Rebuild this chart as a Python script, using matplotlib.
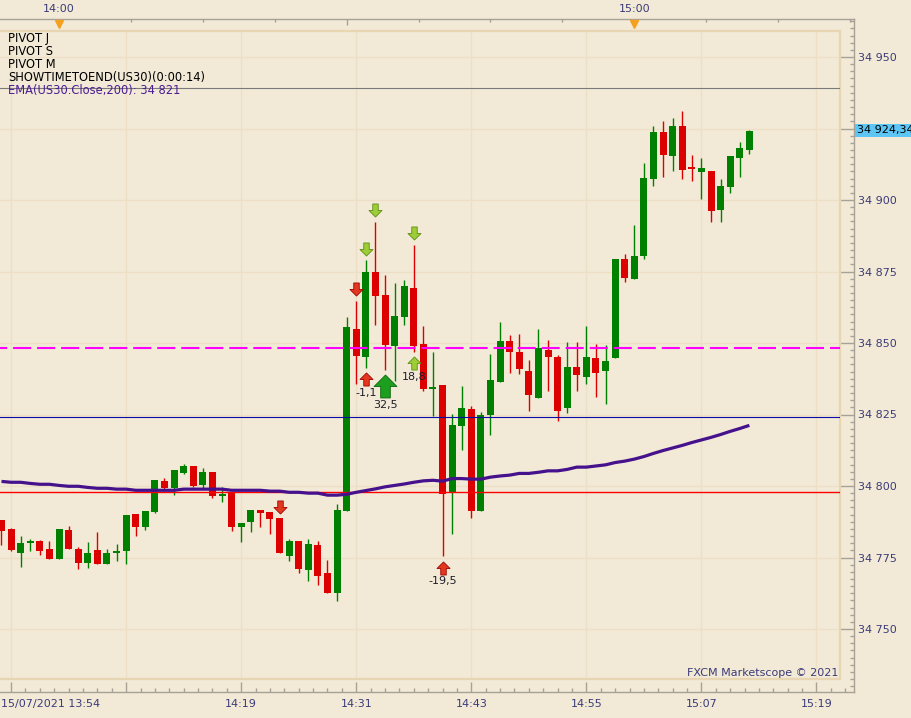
import datetime as dt
import numpy as np
import matplotlib
matplotlib.use("Agg")
import matplotlib.pyplot as plt
from matplotlib.path import Path
from matplotlib.transforms import offset_copy, blended_transform_factory
from matplotlib.ticker import FixedLocator, MultipleLocator, FuncFormatter

# ---------------- data: US30, 1 minute candles, 15/07/2021 ----------------
start = dt.datetime(2021, 7, 15, 13, 54)

opens = [34788.1, 34785.0, 34776.4, 34779.9, 34780.8, 34778.0, 34774.6, 34784.6, 34778.0, 34773.2,
         34777.6, 34772.9, 34776.7, 34777.1, 34790.2, 34785.8, 34791.0, 34801.8, 34799.4, 34804.6,
         34807.0, 34800.4, 34804.9, 34796.6, 34797.9, 34785.7, 34787.4, 34791.6, 34790.9, 34788.8,
         34775.5, 34780.8, 34770.6, 34779.4, 34769.6, 34762.6, 34791.3, 34854.9, 34845.2, 34874.8,
         34866.8, 34849.0, 34859.1, 34869.2, 34849.7, 34833.9, 34835.3, 34797.9, 34820.9, 34826.9,
         34791.2, 34824.8, 34836.3, 34850.7, 34846.8, 34840.2, 34830.7, 34847.5, 34845.1, 34827.2,
         34841.6, 34838.1, 34844.7, 34840.2, 34844.7, 34879.4, 34872.4, 34880.5, 34907.4, 34923.8,
         34915.4, 34925.9, 34911.2, 34909.8, 34910.2, 34896.5, 34904.6, 34914.7, 34917.5]
highs = [34788.1, 34785.2, 34782.5, 34781.5, 34781.1, 34780.8, 34785.0, 34786.0, 34778.7, 34780.4,
         34783.9, 34778.0, 34779.7, 34789.9, 34790.2, 34791.3, 34802.1, 34802.8, 34805.6, 34807.7,
         34807.0, 34806.3, 34804.9, 34799.7, 34797.9, 34787.1, 34791.6, 34791.6, 34790.9, 34788.8,
         34781.5, 34780.8, 34781.5, 34780.8, 34774.1, 34793.7, 34859.2, 34864.7, 34879.0, 34892.3,
         34873.8, 34871.0, 34872.0, 34884.3, 34855.9, 34846.8, 34835.3, 34825.1, 34834.9, 34827.9,
         34825.8, 34846.1, 34857.3, 34852.8, 34853.1, 34844.0, 34854.9, 34851.0, 34845.8, 34850.3,
         34850.3, 34855.9, 34849.6, 34849.3, 34879.4, 34881.2, 34891.3, 34913.0, 34925.9, 34927.7,
         34928.7, 34931.2, 34915.8, 34914.7, 34910.2, 34907.4, 34915.4, 34920.3, 34924.5]
lows = [34779.4, 34777.3, 34771.8, 34777.1, 34775.9, 34774.6, 34774.6, 34777.8, 34771.1, 34771.5,
        34772.9, 34772.9, 34773.9, 34772.9, 34782.6, 34784.7, 34790.7, 34798.6, 34796.9, 34804.2,
        34799.7, 34799.3, 34795.8, 34794.4, 34784.3, 34780.4, 34783.9, 34785.7, 34783.2, 34776.6,
        34773.8, 34769.6, 34766.8, 34765.4, 34762.6, 34759.8, 34791.3, 34835.5, 34841.4, 34856.3,
        34840.6, 34836.7, 34856.3, 34847.0, 34833.2, 34824.4, 34775.5, 34783.2, 34812.5, 34788.8,
        34791.2, 34817.8, 34836.3, 34839.5, 34839.1, 34826.2, 34830.7, 34833.2, 34822.7, 34825.5,
        34833.2, 34835.6, 34831.1, 34828.6, 34844.7, 34871.4, 34872.4, 34879.4, 34904.9, 34908.1,
        34910.2, 34907.4, 34906.7, 34900.4, 34892.3, 34892.3, 34902.5, 34908.1, 34916.1]
closes = [34784.4, 34777.6, 34780.1, 34780.8, 34777.4, 34774.6, 34785.0, 34777.8, 34773.2, 34776.6,
          34772.9, 34776.6, 34777.3, 34789.9, 34785.8, 34791.3, 34802.1, 34799.4, 34805.6, 34807.0,
          34800.0, 34804.9, 34796.5, 34797.2, 34785.7, 34787.1, 34791.6, 34790.6, 34788.5, 34776.6,
          34780.8, 34771.0, 34779.7, 34768.5, 34762.6, 34791.6, 34855.7, 34845.6, 34874.8, 34866.4,
          34849.3, 34859.4, 34869.9, 34849.0, 34833.9, 34834.6, 34797.2, 34821.3, 34827.2, 34791.2,
          34824.8, 34837.0, 34850.7, 34846.8, 34840.9, 34831.8, 34848.2, 34845.1, 34826.2, 34841.6,
          34838.8, 34845.1, 34839.5, 34843.7, 34879.4, 34872.8, 34880.5, 34907.7, 34923.8, 34915.8,
          34925.9, 34910.5, 34910.9, 34911.2, 34896.2, 34904.9, 34915.4, 34918.2, 34924.3]
ema200 = [34801.6, 34801.3, 34801.3, 34800.9, 34800.6, 34800.6, 34800.2, 34799.9, 34799.9, 34799.5,
          34799.2, 34799.2, 34798.9, 34798.9, 34798.5, 34798.5, 34798.5, 34798.5, 34798.5, 34798.9,
          34798.9, 34798.9, 34798.9, 34798.9, 34798.5, 34798.5, 34798.5, 34798.5, 34798.2, 34798.2,
          34797.8, 34797.8, 34797.5, 34797.5, 34796.8, 34796.8, 34797.1, 34797.8, 34798.4, 34799.0,
          34799.7, 34800.2, 34800.7, 34801.3, 34801.8, 34802.0, 34801.7, 34802.6, 34802.6, 34802.4,
          34802.4, 34803.1, 34803.5, 34803.8, 34804.4, 34804.4, 34804.8, 34805.3, 34805.3, 34805.8,
          34806.6, 34806.6, 34807.0, 34807.4, 34808.2, 34808.7, 34809.4, 34810.3, 34811.4, 34812.4,
          34813.3, 34814.2, 34815.2, 34816.1, 34817.0, 34818.0, 34819.1, 34820.1, 34821.2]

pivot_j = 34939.1      # gray
pivot_m = 34824.0      # blue
pivot_s = 34797.9      # red
level_dash = 34848.3   # magenta dashed
last_price = 34924.34

sig_down_idx = [29, 37, 38, 39, 43]
sig_down_kind = ["red", "red", "lime", "lime", "lime"]
sig_up_idx = [38, 40, 43, 46]
sig_up_kind = ["red", "big", "lime", "red"]
sig_up_text = ["-1,1", "32,5", "18,8", "-19,5"]

legend_lines = ["PIVOT J", "PIVOT S", "PIVOT M", "SHOWTIMETOEND(US30)(0:00:14)",
                "EMA(US30.Close,200): " + f"{ema200[-1]:,.0f}".replace(",", " ")]

#------------------------------- layout ---------------------------------#
W, H = 912, 718
PX_MIN = 9.588        # px per candle
PX_PT = 2.86          # px per index point
X0 = 1.5              # px of first candle
Y_REF, P_REF = 486, 34800

BG = "#f2ead7"
GRID = "#eddfc5"
FRAME_IN = "#e8d5b1"
FRAME_OUT = "#a8a296"
AXTXT = "#3b3b78"
UP, DOWN = "#008000", "#dd0000"

def kx(px):
    return (px - X0) / PX_MIN

def py(px):
    return P_REF + (Y_REF - px) / PX_PT

def rect(l, t, r, b):
    return [l / W, 1 - b / H, (r - l) / W, (b - t) / H]

def fmt_price(v, pos=None):
    # the live price tag sits where the nearest level label would be
    if abs(v - last_price) < 8:
        return ""
    return f"{v:,.0f}".replace(",", " ")

def kt(k):
    return start + dt.timedelta(minutes=float(k))

plt.rcParams['font.family'] = ['DejaVu Sans']
plt.rcParams['lines.scale_dashes'] = False

fig = plt.figure(figsize=(W / 100, H / 100), dpi=100, facecolor=BG)
outer = fig.add_axes(rect(0, 19, 854, 692))
ax = fig.add_axes(rect(0, 31, 840, 679))

n = len(closes)
idx = np.arange(n)
o, h, l, c = map(np.array, (opens, highs, lows, closes))
colors = np.where(c >= o, UP, DOWN)

#------------------------------- outer frame / axes ---------------------#
outer.set_facecolor(BG)
outer.set_xlim(kx(0), kx(854))
outer.set_ylim(py(692), py(19))
outer.spines['left'].set_visible(False)
for s in ('top', 'right', 'bottom'):
    outer.spines[s].set_color(FRAME_OUT)
    outer.spines[s].set_linewidth(1.0)

outer.yaxis.tick_right()
outer.yaxis.set_major_locator(MultipleLocator(25))
outer.yaxis.set_minor_locator(MultipleLocator(2.5))
outer.yaxis.set_major_formatter(FuncFormatter(fmt_price))
outer.tick_params(axis='y', which='major', direction='in', length=10, width=1,
                  color=FRAME_OUT, pad=3, labelsize=8, labelcolor=AXTXT)
outer.tick_params(axis='y', which='minor', direction='in', length=3, width=1, color=FRAME_OUT)

bottom_major = np.arange(1, kx(854), 12)
outer.xaxis.set_major_locator(FixedLocator(bottom_major))
outer.xaxis.set_minor_locator(FixedLocator(np.arange(-0.5, kx(854), 1.5)))
outer.xaxis.set_major_formatter(FuncFormatter(
    lambda v, pos: kt(v).strftime("%H:%M") if v > 20 else ""))
outer.tick_params(axis='x', which='major', direction='in', length=7, width=1,
                  color=FRAME_OUT, pad=5, labelsize=8, labelcolor=AXTXT)
outer.tick_params(axis='x', which='minor', direction='in', length=3, width=1, color=FRAME_OUT)
fig.text(1 / W, 1 - 699 / H, start.strftime("%d/%m/%Y %H:%M"), ha='left', va='top',
         fontsize=8, color=AXTXT)

# top time axis
ax_top = outer.twiny()
ax_top.set_xlim(outer.get_xlim())
for s in ax_top.spines.values():
    s.set_visible(False)
hour_k = [k for k in range(int(kx(854)) + 1) if kt(k).minute == 0]
top_major = np.arange(hour_k[0] % 30, kx(854), 30)
ax_top.xaxis.set_major_locator(FixedLocator(top_major))
ax_top.xaxis.set_minor_locator(FixedLocator(np.arange(hour_k[0] % 7.5, kx(854), 7.5)))
ax_top.xaxis.set_major_formatter(FuncFormatter(
    lambda v, pos: kt(v).strftime("%H:%M") if kt(v).minute == 0 else ""))
ax_top.tick_params(axis='x', which='major', direction='in', length=4, width=1,
                   color=FRAME_OUT, pad=3.5, labelsize=8, labelcolor=AXTXT)
ax_top.tick_params(axis='x', which='minor', direction='in', length=2.5, width=1, color=FRAME_OUT)
tri_tr = offset_copy(blended_transform_factory(ax_top.transData, ax_top.transAxes),
                     fig=fig, y=-4.5, units='dots')
ax_top.plot(hour_k, [1] * len(hour_k), marker='v', ms=6, color='#f5a01e', ls='none',
            transform=tri_tr, clip_on=False, zorder=5)

# current price tag
tag_tr = offset_copy(blended_transform_factory(outer.transAxes, outer.transData),
                     fig=fig, x=3, units='dots')
outer.text(1.0, last_price, f"{last_price:,.2f}".replace(",", " ").replace(".", ","),
           transform=tag_tr, ha='left', va='center', fontsize=8, color='black',
           bbox=dict(facecolor='#5ec6f4', edgecolor='none', pad=1.2), clip_on=False)

#------------------------------- inner chart ----------------------------#
ax.set_facecolor(BG)
ax.set_xlim(kx(0), kx(840))
ax.set_ylim(py(679), py(31))
ax.spines['left'].set_visible(False)
for s in ('top', 'right', 'bottom'):
    ax.spines[s].set_color(FRAME_IN)
    ax.spines[s].set_linewidth(1.6)
ax.set_xticks(bottom_major)
ax.yaxis.set_major_locator(MultipleLocator(25))
ax.grid(True, color=GRID, lw=1.0)
ax.set_axisbelow(True)
ax.tick_params(length=0, labelbottom=False, labelleft=False)

# candles
ax.vlines(idx, l, h, colors=colors, lw=1.0, zorder=2)
ax.bar(idx, np.maximum(np.abs(c - o), 0.5), bottom=np.minimum(o, c), width=0.73,
       color=colors, linewidth=0, zorder=3)

# levels
ax.axhline(pivot_j, color='#7a7a7a', lw=0.8, zorder=4)
ax.axhline(pivot_m, color='#0b0ba8', lw=0.8, zorder=4)
ax.axhline(pivot_s, color='#ff0000', lw=1.0, zorder=4)
ax.axhline(level_dash, color='#ff00ff', lw=1.5, zorder=4, linestyle=(7.9, (13, 4.3)))

# EMA 200
ax.plot(idx, ema200, color='#45118c', lw=2.3, zorder=5, solid_capstyle='butt')

# signal arrows
def arrow_path(up):
    s = 1 if up else -1
    v = [(-0.42, -1), (0.42, -1), (0.42, 0), (1, 0), (0, 1), (-1, 0), (-0.42, 0), (-0.42, -1)]
    return Path([(x, s * y) for x, y in v], closed=True)

ARROWS = {"red": ("#e2381f", "#a00000", 9.4),
          "lime": ("#9ccc36", "#5e8e16", 9.4),
          "big": ("#1e9e1e", "#0b640b", 16.5)}
GAP = 5

for k, kind in zip(sig_down_idx, sig_down_kind):
    face, edge, ms = ARROWS[kind]
    hpx = ms * 100 / 72
    tr = offset_copy(ax.transData, fig=fig, y=GAP + hpx / 2, units='dots')
    ax.plot(k, highs[k], marker=arrow_path(False), ms=ms, mfc=face, mec=edge, mew=0.6,
            ls='none', transform=tr, zorder=6, clip_on=False)

for k, kind, txt in zip(sig_up_idx, sig_up_kind, sig_up_text):
    face, edge, ms = ARROWS[kind]
    hpx = ms * 100 / 72
    tr = offset_copy(ax.transData, fig=fig, y=-(GAP + hpx / 2), units='dots')
    ax.plot(k, lows[k], marker=arrow_path(True), ms=ms, mfc=face, mec=edge, mew=0.6,
            ls='none', transform=tr, zorder=6, clip_on=False)
    ttr = offset_copy(ax.transData, fig=fig, y=-(GAP + hpx + 7), units='dots')
    ax.text(k, lows[k], txt, transform=ttr, ha='center', va='center', fontsize=8,
            color='#1e1e2a', zorder=7)

# indicator legend
for i, line in enumerate(legend_lines):
    col = '#4b1c94' if line.startswith("EMA") else 'black'
    fig.text(8 / W, 1 - (38.5 + 13 * i) / H, line, ha='left', va='center',
             fontsize=8.3, color=col)

ax.text(1, 0, "FXCM Marketscope \u00a9 2021",
        transform=offset_copy(ax.transAxes, fig=fig, x=-2, y=6, units='dots'),
        ha='right', va='center', fontsize=8, color=AXTXT)

fig.savefig("out.png", dpi=100, facecolor=BG)
